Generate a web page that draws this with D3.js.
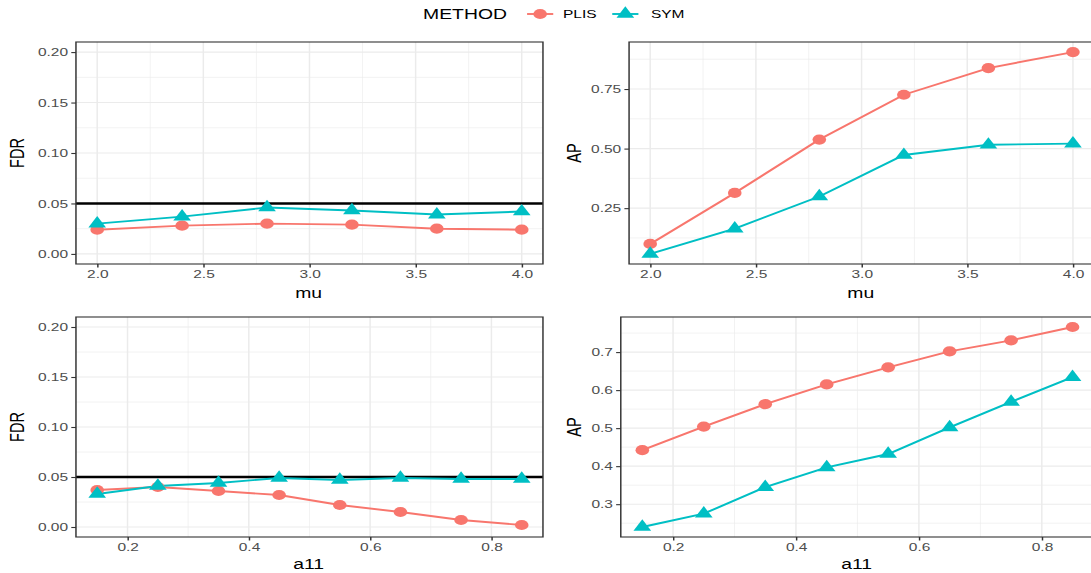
<!DOCTYPE html>
<html>
<head>
<meta charset="utf-8">
<script src="https://cdn.jsdelivr.net/npm/d3@7"></script>
<style>
  html, body { margin: 0; padding: 0; background: #ffffff; }
  svg { display: block; }
  text { font-family: "Liberation Sans", Arial, Helvetica, sans-serif; }
</style>
</head>
<body>
<svg id="chart"></svg>
<script>
// ---- data ----
const methods = ["PLIS", "SYM"];
const muValues = [2.0, 2.4, 2.8, 3.2, 3.6, 4.0];
const a11Values = [0.15, 0.25, 0.35, 0.45, 0.55, 0.65, 0.75, 0.85];

const fdrMuPLIS = [0.024, 0.028, 0.030, 0.029, 0.025, 0.024];
const fdrMuSYM  = [0.030, 0.037, 0.046, 0.043, 0.039, 0.042];
const apMuPLIS  = [0.100, 0.314, 0.538, 0.726, 0.838, 0.905];
const apMuSYM   = [0.058, 0.164, 0.299, 0.473, 0.516, 0.521];

const fdrA11PLIS = [0.037, 0.040, 0.036, 0.032, 0.022, 0.015, 0.007, 0.002];
const fdrA11SYM  = [0.033, 0.041, 0.044, 0.049, 0.047, 0.049, 0.048, 0.048];
const apA11PLIS  = [0.442, 0.504, 0.563, 0.615, 0.660, 0.702, 0.731, 0.766];
const apA11SYM   = [0.240, 0.275, 0.345, 0.397, 0.432, 0.502, 0.569, 0.634];

const fdrTicks = [0.00, 0.05, 0.10, 0.15, 0.20];
const apMuTicks = [0.25, 0.50, 0.75];
const apA11Ticks = [0.3, 0.4, 0.5, 0.6, 0.7];
const muTicks = [2.0, 2.5, 3.0, 3.5, 4.0];
const a11Ticks = [0.2, 0.4, 0.6, 0.8];
const fdrTarget = 0.05;

// ---- drawing setup ----
const pxW = 1091, pxH = 573;
const vbW = 817.2;            // drawing units; stretched across the full width
const colors = { PLIS: "#F8766D", SYM: "#00BFC4" };

const svg = d3.select("#chart")
  .attr("width", pxW).attr("height", pxH)
  .attr("viewBox", `0 0 ${vbW} ${pxH}`)
  .attr("preserveAspectRatio", "none");

function expand(lo, hi, f = 0.05) {
  const p = (hi - lo) * f;
  return [lo - p, hi + p];
}
function midpoints(ticks, domain) {
  const step = ticks[1] - ticks[0];
  const out = [];
  for (let v = ticks[0] - step / 2; v <= domain[1] + 1e-9; v += step) {
    if (v >= domain[0] - 1e-9) out.push(v);
  }
  return out;
}

const triangle = d3.symbol().type(d3.symbolTriangle).size(76);

function panel(cfg) {
  const { x0, x1, y0, y1 } = cfg;
  const x = d3.scaleLinear().domain(cfg.xDomain).range([x0, x1]);
  const y = d3.scaleLinear().domain(cfg.yDomain).range([y1, y0]);
  const g = svg.append("g");

  const clipId = "clip" + Math.round(x0) + "_" + Math.round(y0);
  svg.append("clipPath").attr("id", clipId)
    .append("rect").attr("x", x0).attr("y", y0).attr("width", x1 - x0).attr("height", y1 - y0);

  const grid = g.append("g").attr("clip-path", `url(#${clipId})`);
  // minor grid
  grid.selectAll(".mx").data(midpoints(cfg.xTicks, cfg.xDomain)).join("line")
    .attr("x1", d => x(d)).attr("x2", d => x(d)).attr("y1", y0).attr("y2", y1)
    .attr("stroke", "#EBEBEB").attr("stroke-width", 0.55);
  grid.selectAll(".my").data(midpoints(cfg.yTicks, cfg.yDomain)).join("line")
    .attr("y1", d => y(d)).attr("y2", d => y(d)).attr("x1", x0).attr("x2", x1)
    .attr("stroke", "#EBEBEB").attr("stroke-width", 0.55);
  // major grid
  grid.selectAll(".Mx").data(cfg.xTicks).join("line")
    .attr("x1", d => x(d)).attr("x2", d => x(d)).attr("y1", y0).attr("y2", y1)
    .attr("stroke", "#EBEBEB").attr("stroke-width", 1.1);
  grid.selectAll(".My").data(cfg.yTicks).join("line")
    .attr("y1", d => y(d)).attr("y2", d => y(d)).attr("x1", x0).attr("x2", x1)
    .attr("stroke", "#EBEBEB").attr("stroke-width", 1.1);

  const marks = g.append("g").attr("clip-path", `url(#${clipId})`);
  if (cfg.hline !== undefined) {
    marks.append("line")
      .attr("x1", x0).attr("x2", x1)
      .attr("y1", y(cfg.hline)).attr("y2", y(cfg.hline))
      .attr("stroke", "#000000").attr("stroke-width", 2.6);
  }
  const line = d3.line().x(d => x(d[0])).y(d => y(d[1]));
  methods.forEach(m => {
    const pts = cfg.xVals.map((v, i) => [v, cfg.series[m][i]]);
    marks.append("path").datum(pts)
      .attr("d", line).attr("fill", "none")
      .attr("stroke", colors[m]).attr("stroke-width", 1.9);
  });
  methods.forEach(m => {
    const pts = cfg.xVals.map((v, i) => [v, cfg.series[m][i]]);
    if (m === "PLIS") {
      marks.selectAll(null).data(pts).join("circle")
        .attr("cx", d => x(d[0])).attr("cy", d => y(d[1])).attr("r", 5.1)
        .attr("fill", colors[m]);
    } else {
      marks.selectAll(null).data(pts).join("path")
        .attr("d", triangle)
        .attr("transform", d => `translate(${x(d[0])},${y(d[1])})`)
        .attr("fill", colors[m]);
    }
  });

  // panel border
  g.append("rect").attr("x", x0).attr("y", y0)
    .attr("width", x1 - x0).attr("height", y1 - y0)
    .attr("fill", "none").attr("stroke", "#333333").attr("stroke-width", 1.1);

  // axes
  const xAxis = g.append("g").attr("transform", `translate(0,${y1})`)
    .call(d3.axisBottom(x).tickValues(cfg.xTicks).tickFormat(cfg.xFmt).tickSize(3.5).tickPadding(2.6));
  const yAxis = g.append("g").attr("transform", `translate(${x0},0)`)
    .call(d3.axisLeft(y).tickValues(cfg.yTicks).tickFormat(cfg.yFmt).tickSize(3.5).tickPadding(2.4));
  [xAxis, yAxis].forEach(a => {
    a.select(".domain").remove();
    a.selectAll(".tick line").attr("stroke", "#333333").attr("stroke-width", 1.1);
    a.selectAll(".tick text").attr("fill", "#4D4D4D")
      .style("font-size", "11.6px")
      .style("font-family", "'Liberation Sans', Arial, sans-serif");
  });

  // axis titles
  g.append("text")
    .attr("x", (x0 + Math.min(x1, vbW + 2.3)) / 2 - 0.6).attr("y", cfg.xTitleY)
    .attr("text-anchor", "middle").attr("fill", "#000")
    .style("font-size", "14.5px").text(cfg.xTitle);
  g.append("text")
    .attr("transform", `translate(${cfg.yTitleX},${(y0 + y1) / 2}) rotate(-90)`)
    .attr("text-anchor", "middle").attr("fill", "#000")
    .style("font-size", "14.5px").text(cfg.yTitle);
}

const muDomain = expand(d3.min(muValues), d3.max(muValues));
const a11Domain = expand(d3.min(a11Values), d3.max(a11Values));
const fdrDomain = expand(0, 0.2);
const apMuDomain = expand(d3.min(apMuSYM.concat(apMuPLIS)), d3.max(apMuSYM.concat(apMuPLIS)));
const apA11Domain = expand(d3.min(apA11SYM.concat(apA11PLIS)), d3.max(apA11SYM.concat(apA11PLIS)));

const f2 = d3.format(".2f"), f1 = d3.format(".1f");

panel({
  x0: 56.9, x1: 406.7, y0: 42, y1: 264,
  xDomain: muDomain, yDomain: fdrDomain,
  xTicks: muTicks, yTicks: fdrTicks, xFmt: f1, yFmt: f2,
  xVals: muValues, series: { PLIS: fdrMuPLIS, SYM: fdrMuSYM },
  hline: fdrTarget, xTitle: "mu", yTitle: "FDR", xTitleY: 298.3, yTitleX: 18
});
panel({
  x0: 471.2, x1: 819.5, y0: 42, y1: 264,
  xDomain: muDomain, yDomain: apMuDomain,
  xTicks: muTicks, yTicks: apMuTicks, xFmt: f1, yFmt: f2,
  xVals: muValues, series: { PLIS: apMuPLIS, SYM: apMuSYM },
  xTitle: "mu", yTitle: "AP", xTitleY: 298.3, yTitleX: 435.2
});
panel({
  x0: 56.9, x1: 406.7, y0: 317, y1: 537,
  xDomain: a11Domain, yDomain: fdrDomain,
  xTicks: a11Ticks, yTicks: fdrTicks, xFmt: f1, yFmt: f2,
  xVals: a11Values, series: { PLIS: fdrA11PLIS, SYM: fdrA11SYM },
  hline: fdrTarget, xTitle: "a11", yTitle: "FDR", xTitleY: 569.5, yTitleX: 18
});
panel({
  x0: 465, x1: 819.5, y0: 317, y1: 537,
  xDomain: a11Domain, yDomain: apA11Domain,
  xTicks: a11Ticks, yTicks: apA11Ticks, xFmt: f1, yFmt: f1,
  xVals: a11Values, series: { PLIS: apA11PLIS, SYM: apA11SYM },
  xTitle: "a11", yTitle: "AP", xTitleY: 569.5, yTitleX: 435.2
});

// ---- legend ----
const legend = svg.append("g");
legend.append("text").attr("x", 316.9).attr("y", 19.2)
  .style("font-size", "14.5px").attr("fill", "#000").text("METHOD");
const keyX = { PLIS: 394.8, SYM: 458.6 };
const labX = { PLIS: 421.7, SYM: 487.6 };
methods.forEach(m => {
  const kx = keyX[m], cy = 14;
  legend.append("line").attr("x1", kx).attr("x2", kx + 19.6)
    .attr("y1", cy).attr("y2", cy)
    .attr("stroke", colors[m]).attr("stroke-width", 1.9);
  if (m === "PLIS") {
    legend.append("circle").attr("cx", kx + 9.8).attr("cy", cy).attr("r", 5.1).attr("fill", colors[m]);
  } else {
    legend.append("path").attr("d", triangle)
      .attr("transform", `translate(${kx + 9.8},${cy})`).attr("fill", colors[m]);
  }
  legend.append("text").attr("x", labX[m]).attr("y", 18.2)
    .style("font-size", "11.6px").attr("fill", "#000").text(m);
});
</script>
</body>
</html>
